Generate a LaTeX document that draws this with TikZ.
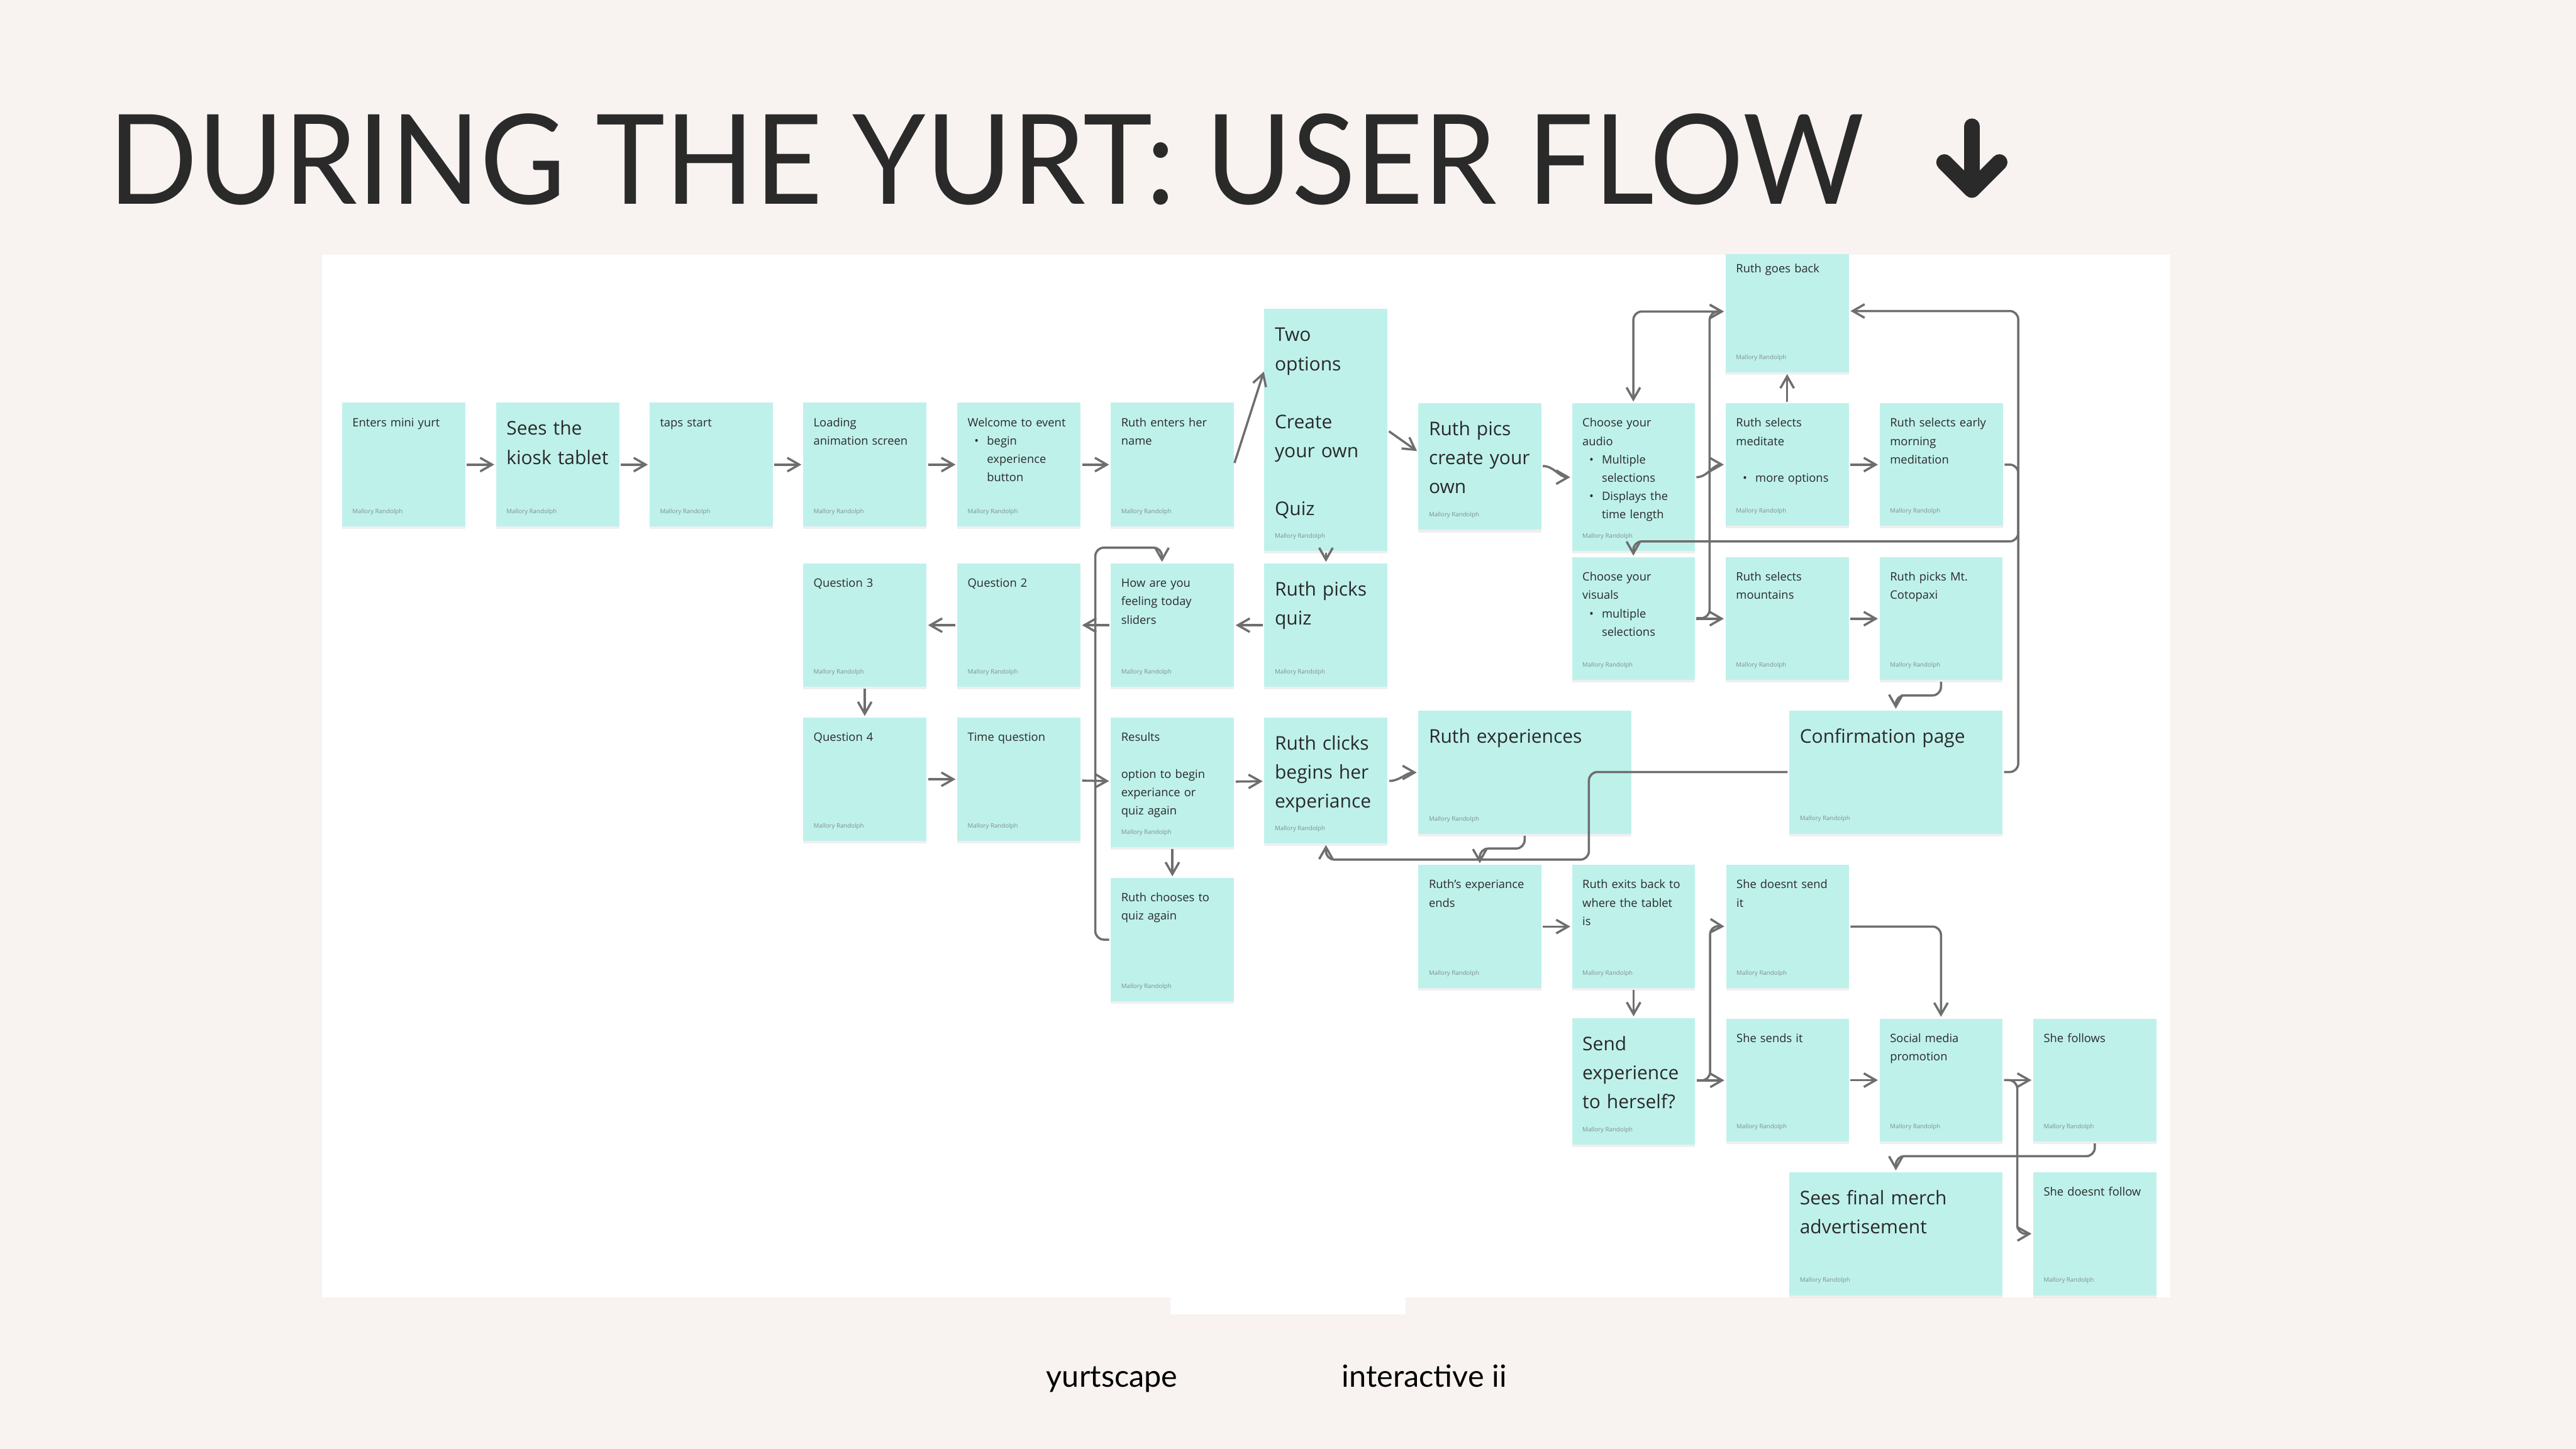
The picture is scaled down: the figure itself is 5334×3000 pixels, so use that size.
\documentclass[tikz,border=0pt]{standalone}
\usepackage{fontspec}
\setmainfont{Open Sans}
\newfontfamily\titlefont[FakeStretch=0.94]{Lato}
\newfontfamily\footfont{Lato}
\usetikzlibrary{arrows.meta,shadows}

\definecolor{slidebg}{RGB}{248,243,240}
\definecolor{notefill}{RGB}{191,241,235}
\definecolor{flowgray}{RGB}{110,110,110}
\definecolor{inkdark}{RGB}{42,42,42}
\definecolor{signgray}{RGB}{126,144,141}

% bullet line and its continuation
\newcommand{\bul}{\hspace*{4pt}\makebox[7.4pt][l]{\textbullet}}
\newcommand{\bulc}{\hspace*{11.4pt}}

% one sticky note: name, left, top, width, height (px), text style, text
\newcommand{\sticky}[7]{%
  \node[note, minimum width=#4*0.2845pt, minimum height=#5*0.2845pt] (#1) at (#2,#3) {};
  \node[#6] (#1-txt) at ([shift={(21,49)}]#1.north west) {#7};
  \node[signed] (#1-sig) at ([shift={(21,-27)}]#1.south west) {Mallory Randolph};
}

\begin{document}
\begin{tikzpicture}[x=0.01cm, y=-0.01cm,
    note/.style={fill=notefill, draw=none, rectangle, inner sep=0pt, outer sep=0pt, anchor=north west,
      drop shadow={shadow xshift=0pt, shadow yshift=-1.5pt, opacity=0.12}},
    notetxt/.style={anchor=base west, inner sep=0pt, align=left, text width=140pt, text=inkdark,
      font=\fontsize{6.8}{10.8}\selectfont},
    notebig/.style={notetxt, font=\fontsize{11.1}{17.1}\selectfont, yshift=-5.1pt},
    signed/.style={anchor=base west, inner sep=0pt, text=signgray, font=\fontsize{3.6}{4.5}\selectfont},
    >={Straight Barb[length=7pt, width=8pt]},
    flow/.style={draw=flowgray, line width=1.3pt, ->, rounded corners=5pt, shorten >=1pt, shorten <=1pt},
    titletxt/.style={anchor=base west, inner sep=0pt, text=inkdark, font=\titlefont\fontsize{73.5}{80}\selectfont},
    foot/.style={anchor=base west, inner sep=0pt, text=black, font=\footfont\fontsize{18}{20}\selectfont},
    titlearrow/.style={draw=inkdark, line width=9.5pt, line cap=round, line join=round}]

  % slide and board
  \fill[slidebg] (0,0) rectangle (5334,3000);
  \useasboundingbox (0,0) rectangle (5334,3000);
  \fill[white] (667,527) rectangle (4494,2687);
  \fill[white] (2423,2687) rectangle (2910,2722);

  \node[titletxt] (title) at (224,422) {DURING THE YURT: USER FLOW};
  \draw[titlearrow] (4083,262) -- (4083,390);
  \draw[titlearrow] (4026,336) -- (4083,393) -- (4140,336);

  \node[foot] (brand) at (2166,2872) {yurtscape};
  \node[foot] (course) at (2778,2872) {interactive ii};

  % entry row
  \sticky{n1}{708}{834}{255}{256}{notetxt}{Enters mini yurt}
  \sticky{n2}{1027}{834}{255}{256}{notebig}{Sees the\\kiosk tablet}
  \sticky{n3}{1345}{834}{255}{256}{notetxt}{taps start}
  \sticky{n4}{1663}{834}{255}{256}{notetxt}{Loading\\animation screen}
  \sticky{n5}{1982}{834}{255}{256}{notetxt}{Welcome to event\\\bul begin\\\bulc experience\\\bulc button}
  \sticky{n6}{2300}{834}{255}{256}{notetxt}{Ruth enters her\\name}
  \sticky{twoopt}{2618}{640}{255}{501}{notebig}{Two\\options\\[\baselineskip]Create\\your own\\[\baselineskip]Quiz}

  % create your own branch
  \sticky{pics}{2937}{835}{254}{262}{notebig}{Ruth pics\\create your\\own}
  \sticky{audio}{3255}{835}{254}{306}{notetxt}{Choose your\\audio\\\bul Multiple\\\bulc selections\\\bul Displays the\\\bulc time length}
  \sticky{med}{3573}{835}{255}{254}{notetxt}{Ruth selects\\meditate\\[\baselineskip]\bul more options}
  \sticky{early}{3892}{835}{255}{254}{notetxt}{Ruth selects early\\morning\\meditation}
  \begin{scope}
    \clip (667,527) rectangle (4494,2687);
    \sticky{back}{3573}{516}{255}{255}{notetxt}{Ruth goes back}
  \end{scope}
  \sticky{visuals}{3255}{1154}{254}{254}{notetxt}{Choose your\\visuals\\\bul multiple\\\bulc selections}
  \sticky{mount}{3573}{1154}{255}{254}{notetxt}{Ruth selects\\mountains}
  \sticky{coto}{3892}{1154}{254}{254}{notetxt}{Ruth picks Mt.\\Cotopaxi}
  \sticky{confirm}{3705}{1471}{441}{255}{notebig}{Confirmation page}
  \sticky{rexp}{2937}{1472}{441}{255}{notebig}{Ruth experiences}

  % quiz branch
  \sticky{quiz}{2618}{1167}{255}{255}{notebig}{Ruth picks\\quiz}
  \sticky{feel}{2300}{1167}{255}{255}{notetxt}{How are you\\feeling today\\sliders}
  \sticky{q2}{1982}{1167}{255}{255}{notetxt}{Question 2}
  \sticky{q3}{1663}{1167}{255}{255}{notetxt}{Question 3}
  \sticky{q4}{1663}{1486}{255}{255}{notetxt}{Question 4}
  \sticky{timeq}{1982}{1486}{255}{255}{notetxt}{Time question}
  \sticky{results}{2300}{1486}{255}{268}{notetxt}{Results\\[\baselineskip]option to begin\\experiance or\\quiz again}
  \sticky{clicks}{2618}{1486}{255}{260}{notebig}{Ruth clicks\\begins her\\experiance}
  \sticky{again}{2300}{1818}{255}{255}{notetxt}{Ruth chooses to\\quiz again}

  % after the experience
  \sticky{ends}{2937}{1791}{254}{255}{notetxt}{Ruth's experiance\\ends}
  \sticky{exits}{3255}{1791}{255}{255}{notetxt}{Ruth exits back to\\where the tablet\\is}
  \sticky{nosend}{3574}{1791}{254}{255}{notetxt}{She doesnt send\\it}
  \sticky{send}{3255}{2108}{255}{262}{notebig}{Send\\experience\\to herself?}
  \sticky{sends}{3574}{2109}{254}{255}{notetxt}{She sends it}
  \sticky{social}{3892}{2109}{254}{255}{notetxt}{Social media\\promotion}
  \sticky{follows}{4210}{2109}{255}{255}{notetxt}{She follows}
  \sticky{merch}{3705}{2427}{441}{255}{notebig}{Sees final merch\\advertisement}
  \sticky{nofollow}{4210}{2427}{255}{255}{notetxt}{She doesnt follow}

  % connectors
  \draw[flow] (n1) -- (n2);
  \draw[flow] (n2) -- (n3);
  \draw[flow] (n3) -- (n4);
  \draw[flow] (n4) -- (n5);
  \draw[flow] (n5) -- (n6);
  \draw[flow] (n6.east) -- (twoopt.west |- 0,766);
  \draw[flow] (twoopt.east |- 0,891) -- (pics.west |- 0,936);
  \draw[flow] (twoopt) -- (quiz);
  \draw[flow] (quiz) -- (feel);
  \draw[flow] (feel) -- (q2);
  \draw[flow] (q2) -- (q3);
  \draw[flow] (q3) -- (q4);
  \draw[flow] (q4) -- (timeq);
  \draw[flow] (timeq) -- (results);
  \draw[flow] (results) -- (clicks);
  \draw[flow] (results) -- (again);
  \draw[flow] (again.west) -| (2268,1134) -| (feel.north -| 2406,0);
  \draw[flow] (clicks.east |- 0,1617) to[out=0, in=180] (rexp.west);

  \draw[flow] (pics.east |- 0,965) to[out=0, in=180] (audio.west);
  \draw[flow] (audio.east) to[out=0, in=180] (med.west);
  \draw[flow] (med) -- (back.south -| med.north);
  \draw[flow] (med) -- (early);
  \draw[flow, <->] (audio.north) |- (back.west |- 0,645);
  \draw[flow] (visuals.east |- 0,1280) -| (3540,645) -- (back.west |- 0,645);
  \draw[flow] (visuals) -- (mount);
  \draw[flow] (mount) -- (coto);
  \draw[flow] (early.east) -| (4179,1121) -| (visuals.north);
  \draw[flow] (coto.south) -- (4019,1440) -| (confirm.north);
  \draw[flow] (confirm.east) -| (4179,644) -- (back.east |- 0,644);
  \draw[flow] (confirm.west) -| (3290,1780) -| (clicks.south);
  \draw[flow] (rexp.south -| 3157,0) |- (3064,1757) -- (ends.north);

  \draw[flow] (ends) -- (exits);
  \draw[flow] (exits) -- (send);
  \draw[flow] (send.east |- 0,2237) -- (sends.west |- 0,2237);
  \draw[flow] (send.east |- 0,2237) -| (3541,1917) -- (nosend.west);
  \draw[flow] (nosend.east) -| (social.north);
  \draw[flow] (sends) -- (social);
  \draw[flow] (social) -- (follows);
  \draw[flow] (social.east) -| (4177,2555) -- (nofollow.west);
  \draw[flow] (follows.south) |- (merch.north |- 0,2394) -- (merch.north);
\end{tikzpicture}
\end{document}
